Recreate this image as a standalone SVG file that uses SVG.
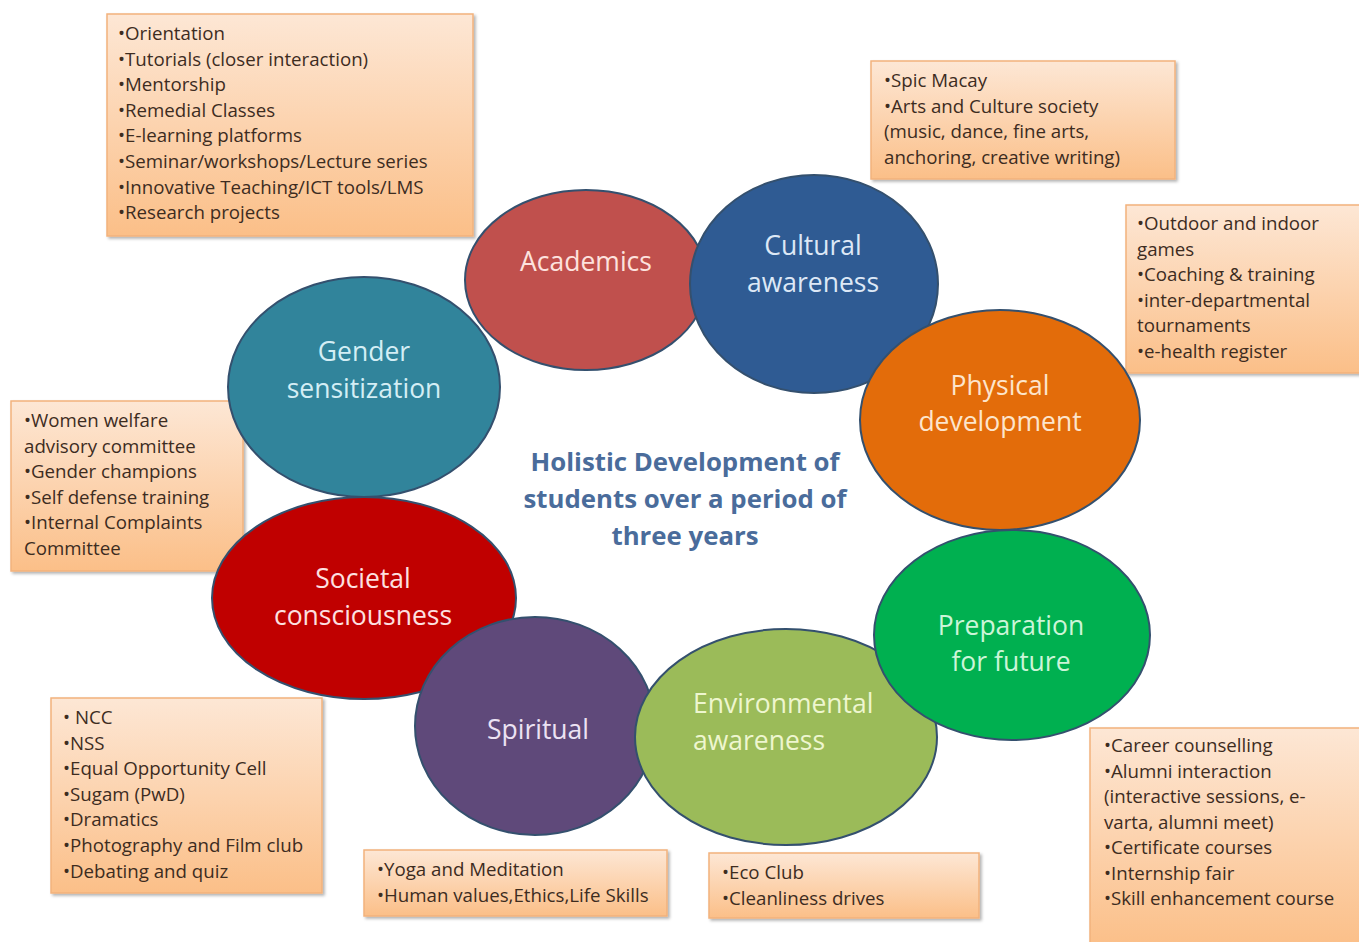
<svg xmlns="http://www.w3.org/2000/svg" width="1359" height="942" viewBox="0 0 1359 942">
<defs>
<linearGradient id="boxg" x1="0" y1="0" x2="0" y2="1">
<stop offset="0" stop-color="#fde7d5"/>
<stop offset="1" stop-color="#fbbf88"/>
</linearGradient>
<filter id="sh" x="-5%" y="-5%" width="112%" height="115%">
<feDropShadow dx="2" dy="2" stdDeviation="1.5" flood-color="#000" flood-opacity="0.3"/>
</filter>
<style>
.box{fill:url(#boxg);stroke:#f2b27c;stroke-width:1.5;filter:url(#sh)}
.bt{font-family:"Open Sans",Lato,"Liberation Sans",sans-serif;font-size:18.7px;fill:#3d2c1f}
.el{stroke:#34506e;stroke-width:2}
.lb{font-family:"Open Sans",Lato,"Liberation Sans",sans-serif;font-size:26.5px;text-anchor:middle}
.ct{font-family:"Open Sans",Lato,"Liberation Sans",sans-serif;font-size:25.8px;font-weight:bold;fill:#4a6c9b;text-anchor:middle}
</style>
</defs>
<rect width="1359" height="942" fill="#ffffff"/>

<g id="box-academics">
<rect class="box" x="107" y="14" width="366" height="222"/>
<text class="bt"><tspan x="118" y="40">•Orientation</tspan><tspan x="118" y="66">•Tutorials (closer interaction)</tspan><tspan x="118" y="91">•Mentorship</tspan><tspan x="118" y="117">•Remedial Classes</tspan><tspan x="118" y="142">•E-learning platforms</tspan><tspan x="118" y="168">•Seminar/workshops/Lecture series</tspan><tspan x="118" y="194">•Innovative Teaching/ICT tools/LMS</tspan><tspan x="118" y="219">•Research projects</tspan></text>
</g>
<g id="box-cultural">
<rect class="box" x="871" y="61" width="304" height="118"/>
<text class="bt"><tspan x="884" y="87">•Spic Macay</tspan><tspan x="884" y="113">•Arts and Culture society</tspan><tspan x="884" y="138">(music, dance, fine arts,</tspan><tspan x="884" y="164">anchoring, creative writing)</tspan></text>
</g>
<g id="box-physical">
<rect class="box" x="1126" y="205" width="240" height="168"/>
<text class="bt"><tspan x="1137" y="230">•Outdoor and indoor</tspan><tspan x="1137" y="256">games</tspan><tspan x="1137" y="281">•Coaching &amp; training</tspan><tspan x="1137" y="307">•inter-departmental</tspan><tspan x="1137" y="332">tournaments</tspan><tspan x="1137" y="358">•e-health register</tspan></text>
</g>
<g id="box-gender">
<rect class="box" x="11" y="401" width="232" height="170"/>
<text class="bt"><tspan x="24" y="427">•Women welfare</tspan><tspan x="24" y="453">advisory committee</tspan><tspan x="24" y="478">•Gender champions</tspan><tspan x="24" y="504">•Self defense training</tspan><tspan x="24" y="529">•Internal Complaints</tspan><tspan x="24" y="555">Committee</tspan></text>
</g>
<g id="box-societal">
<rect class="box" x="51" y="698" width="271" height="195"/>
<text class="bt"><tspan x="63" y="724">• NCC</tspan><tspan x="63" y="750">•NSS</tspan><tspan x="63" y="775">•Equal Opportunity Cell</tspan><tspan x="63" y="801">•Sugam (PwD)</tspan><tspan x="63" y="826">•Dramatics</tspan><tspan x="63" y="852">•Photography and Film club</tspan><tspan x="63" y="878">•Debating and quiz</tspan></text>
</g>
<g id="box-spiritual">
<rect class="box" x="364" y="850" width="303" height="66"/>
<text class="bt"><tspan x="377" y="876">•Yoga and Meditation</tspan><tspan x="377" y="902">•Human values,Ethics,Life Skills</tspan></text>
</g>
<g id="box-environmental">
<rect class="box" x="709" y="853" width="270" height="65"/>
<text class="bt"><tspan x="722" y="879">•Eco Club</tspan><tspan x="722" y="905">•Cleanliness drives</tspan></text>
</g>
<g id="box-preparation">
<rect class="box" x="1090" y="728" width="276" height="220"/>
<text class="bt"><tspan x="1104" y="752">•Career counselling</tspan><tspan x="1104" y="778">•Alumni interaction</tspan><tspan x="1104" y="803">(interactive sessions, e-</tspan><tspan x="1104" y="829">varta, alumni meet)</tspan><tspan x="1104" y="854">•Certificate courses</tspan><tspan x="1104" y="880">•Internship fair</tspan><tspan x="1104" y="905">•Skill enhancement course</tspan></text>
</g>

<g id="connectors"></g>

<g id="gender">
<ellipse class="el" cx="364" cy="387" rx="136" ry="110" fill="#31849b"/>
<text class="lb" fill="#d4eef5"><tspan x="364" y="361">Gender</tspan><tspan x="364" y="398">sensitization</tspan></text>
</g>
<g id="academics">
<ellipse class="el" cx="586" cy="280" rx="121" ry="90" fill="#c0504d"/>
<text class="lb" fill="#fde2de" x="586" y="271">Academics</text>
</g>
<g id="cultural">
<ellipse class="el" cx="814" cy="284" rx="124" ry="109" fill="#2f5b93"/>
<text class="lb" fill="#dde8f6"><tspan x="813" y="255">Cultural</tspan><tspan x="813" y="292">awareness</tspan></text>
</g>
<g id="physical">
<ellipse class="el" cx="1000" cy="420" rx="140" ry="110" fill="#e36c0a"/>
<text class="lb" fill="#fde5cc"><tspan x="1000" y="395">Physical</tspan><tspan x="1000" y="431">development</tspan></text>
</g>
<g id="societal">
<ellipse class="el" cx="364" cy="598" rx="152" ry="101" fill="#c00000"/>
<text class="lb" fill="#fde0e0"><tspan x="363" y="588">Societal</tspan><tspan x="363" y="625">consciousness</tspan></text>
</g>
<g id="spiritual">
<ellipse class="el" cx="535" cy="726" rx="120" ry="109" fill="#5f497a"/>
<text class="lb" fill="#ece2f3" x="538" y="739">Spiritual</text>
</g>
<g id="environmental">
<ellipse class="el" cx="786" cy="737" rx="151" ry="108" fill="#9bbb59"/>
<text class="lb" fill="#eef6cf" style="text-anchor:start"><tspan x="693" y="713">Environmental</tspan><tspan x="693" y="750">awareness</tspan></text>
</g>
<g id="preparation">
<ellipse class="el" cx="1012" cy="635" rx="138" ry="105" fill="#00b050"/>
<text class="lb" fill="#ccf5d8"><tspan x="1011" y="635">Preparation</tspan><tspan x="1011" y="671">for future</tspan></text>
</g>

<g id="center">
<text class="ct"><tspan x="685" y="471">Holistic Development of</tspan><tspan x="685" y="508">students over a period of</tspan><tspan x="685" y="545">three years</tspan></text>
</g>
</svg>
